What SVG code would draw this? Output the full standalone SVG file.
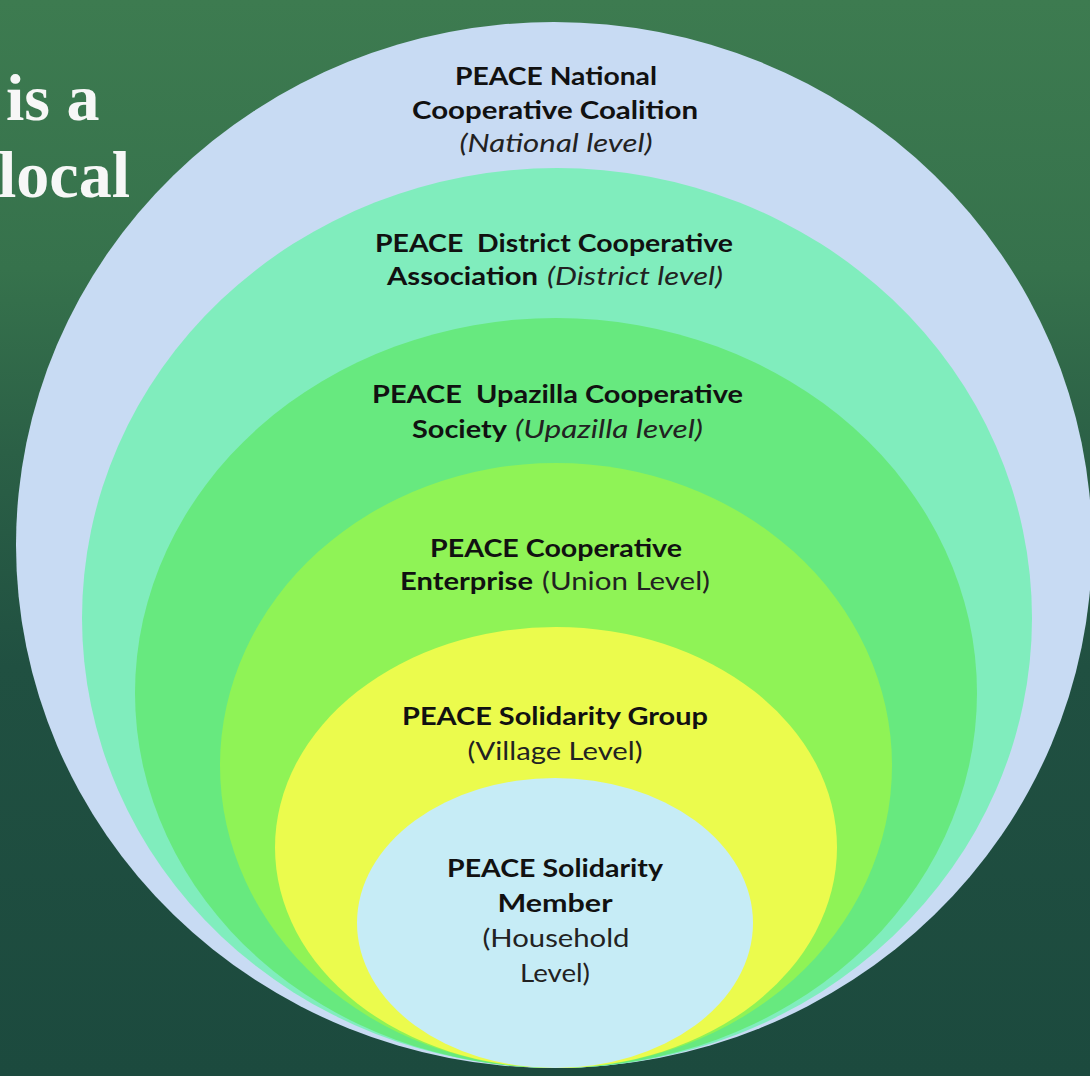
<svg xmlns="http://www.w3.org/2000/svg" width="1090" height="1076" viewBox="0 0 1090 1076">
  <defs>
    <linearGradient id="bg" x1="0" y1="0" x2="0" y2="1">
      <stop offset="0" stop-color="#3d7b50"/>
      <stop offset="0.25" stop-color="#36724c"/>
      <stop offset="0.42" stop-color="#2b6046"/>
      <stop offset="0.62" stop-color="#205041"/>
      <stop offset="1" stop-color="#1c4a3e"/>
    </linearGradient>
    <style>
      .b { font-family: Lato, "Liberation Sans", sans-serif; font-weight: 700; font-size: 25px; fill: #111; }
      .i { font-family: Lato, "Liberation Sans", sans-serif; font-weight: 400; font-style: italic; font-size: 25px; fill: #222; }
      .r { font-family: Lato, "Liberation Sans", sans-serif; font-weight: 400; font-size: 25px; fill: #222; }
      .c { text-anchor: middle; }
      .s { text-anchor: start; }
      .hd { font-family: "Liberation Serif", serif; font-weight: 700; font-size: 66px; fill: #f7f7f7; }
    </style>
  </defs>

  <rect x="0" y="0" width="1090" height="1076" fill="url(#bg)"/>

  <g id="heading-fragment">
    <text class="hd" x="6" y="120">is a</text>
    <text class="hd" x="-2" y="197">local</text>
  </g>

  <g id="connectors"/>

  <g id="national-level">
    <ellipse cx="554" cy="545" rx="538" ry="523" fill="#c8dbf3"/>
    <text class="b c" x="556" y="85" textLength="202" lengthAdjust="spacingAndGlyphs">PEACE National</text>
    <text class="b c" x="555" y="119" textLength="286" lengthAdjust="spacingAndGlyphs">Cooperative Coalition</text>
    <text class="i c" x="556" y="152" textLength="193" lengthAdjust="spacingAndGlyphs">(National level)</text>
  </g>

  <g id="district-level">
    <ellipse cx="557" cy="618" rx="475" ry="450" fill="#80edbd"/>
    <text class="b s" x="375" y="252" textLength="358" lengthAdjust="spacingAndGlyphs">PEACE&#160; District Cooperative</text>
    <text class="b s" x="387" y="285" textLength="151" lengthAdjust="spacingAndGlyphs">Association</text>
    <text class="i s" x="547" y="285" textLength="176" lengthAdjust="spacingAndGlyphs">(District level)</text>
  </g>

  <g id="upazilla-level">
    <ellipse cx="556" cy="693" rx="421" ry="375" fill="#67e97f"/>
    <text class="b s" x="372" y="403" textLength="371" lengthAdjust="spacingAndGlyphs">PEACE&#160; Upazilla Cooperative</text>
    <text class="b s" x="412" y="438" textLength="95" lengthAdjust="spacingAndGlyphs">Society</text>
    <text class="i s" x="515" y="438" textLength="188" lengthAdjust="spacingAndGlyphs">(Upazilla level)</text>
  </g>

  <g id="union-level">
    <ellipse cx="556" cy="765.5" rx="336" ry="302.5" fill="#8ff356"/>
    <text class="b c" x="556" y="557" textLength="252" lengthAdjust="spacingAndGlyphs">PEACE Cooperative</text>
    <text class="b s" x="400" y="590" textLength="133" lengthAdjust="spacingAndGlyphs">Enterprise</text>
    <text class="r s" x="542" y="590" textLength="168" lengthAdjust="spacingAndGlyphs">(Union Level)</text>
  </g>

  <g id="village-level">
    <ellipse cx="556" cy="847.5" rx="281" ry="220.5" fill="#ebfb4d"/>
    <text class="b c" x="555" y="725" textLength="306" lengthAdjust="spacingAndGlyphs">PEACE Solidarity Group</text>
    <text class="r c" x="555" y="760" textLength="175" lengthAdjust="spacingAndGlyphs">(Village Level)</text>
  </g>

  <g id="household-level">
    <ellipse cx="555" cy="923" rx="198" ry="145" fill="#c6ecf6"/>
    <text class="b c" x="555" y="877" textLength="216" lengthAdjust="spacingAndGlyphs">PEACE Solidarity</text>
    <text class="b c" x="555" y="912" textLength="115" lengthAdjust="spacingAndGlyphs">Member</text>
    <text class="r c" x="556" y="947" textLength="147" lengthAdjust="spacingAndGlyphs">(Household</text>
    <text class="r c" x="555" y="982" textLength="70" lengthAdjust="spacingAndGlyphs">Level)</text>
  </g>
</svg>
